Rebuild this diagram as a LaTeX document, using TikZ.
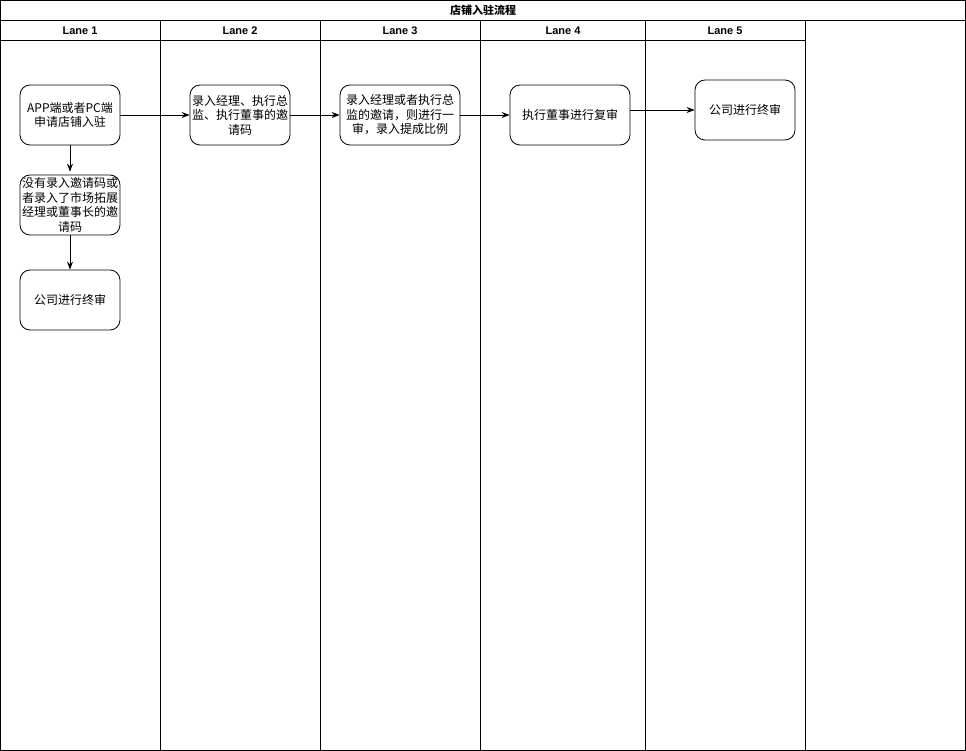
\documentclass[tikz,border=0pt]{standalone}
\usepackage{fontspec}
\setmainfont{Liberation Sans}
\newfontfamily\cjk{Noto Sans CJK SC}
\usetikzlibrary{arrows.meta}
\begin{document}
\begin{tikzpicture}[x=1pt,y=-1pt,
  frame/.style={draw=black,line width=1pt},
  hdr/.style={font=\bfseries\fontsize{11}{13}\selectfont,anchor=center},
  stepbox/.style={draw=black,line width=0.8pt,rounded corners=10pt,align=center,
    font=\cjk\fontsize{12}{14.5}\selectfont,inner sep=0pt},
  flow/.style={draw=black,line width=0.8pt,-{Stealth[length=8pt,width=6pt]}}]
\useasboundingbox (0,0) rectangle (966,751);
% pool outline, title row and lane header row
\draw[frame] (0.5,0.5) rectangle (965.5,750.5);
\draw[frame] (0.5,20.5) -- (965.5,20.5);
\draw[frame] (0.5,40.5) -- (805.5,40.5);
\foreach \x in {160.5,320.5,480.5,645.5,805.5}
  \draw[frame] (\x,20.5) -- (\x,750.5);
\node[hdr,font=\cjk\bfseries\fontsize{11}{13}\selectfont] (title) at (483,10.5) {店铺入驻流程};
\node[hdr] (h1) at (80,30.5) {Lane 1};
\node[hdr] (h2) at (240,30.5) {Lane 2};
\node[hdr] (h3) at (400,30.5) {Lane 3};
\node[hdr] (h4) at (563,30.5) {Lane 4};
\node[hdr] (h5) at (725,30.5) {Lane 5};
% process steps
\node[stepbox,minimum width=100pt,minimum height=60pt] (b1) at (70,115) {APP端或者PC端\\申请店铺入驻};
\node[stepbox,minimum width=100pt,minimum height=60pt] (b2) at (240,115) {录入经理、执行总\\监、执行董事的邀\\请码};
\node[stepbox,minimum width=120pt,minimum height=60pt] (b3) at (400,115) {录入经理或者执行总\\监的邀请，则进行一\\审，录入提成比例};
\node[stepbox,minimum width=120pt,minimum height=60pt] (b4) at (570,115) {执行董事进行复审};
\node[stepbox,minimum width=100pt,minimum height=60pt] (b5) at (745,110) {公司进行终审};
\node[stepbox,minimum width=100pt,minimum height=60pt] (b6) at (70,205) {没有录入邀请码或\\者录入了市场拓展\\经理或董事长的邀\\请码};
\node[stepbox,minimum width=100pt,minimum height=60pt] (b7) at (70,300) {公司进行终审};
% connectors
\draw[flow] (b1) -- (b2);
\draw[flow] (b2) -- (b3);
\draw[flow] (b3) -- (b4);
\draw[flow] (b4.east |- b5.west) -- (b5.west);
\draw[flow] (b1.south) -- ([yshift=3pt]b6.north);
\draw[flow] (b6.south) -- (b7.north);
\end{tikzpicture}
\end{document}
